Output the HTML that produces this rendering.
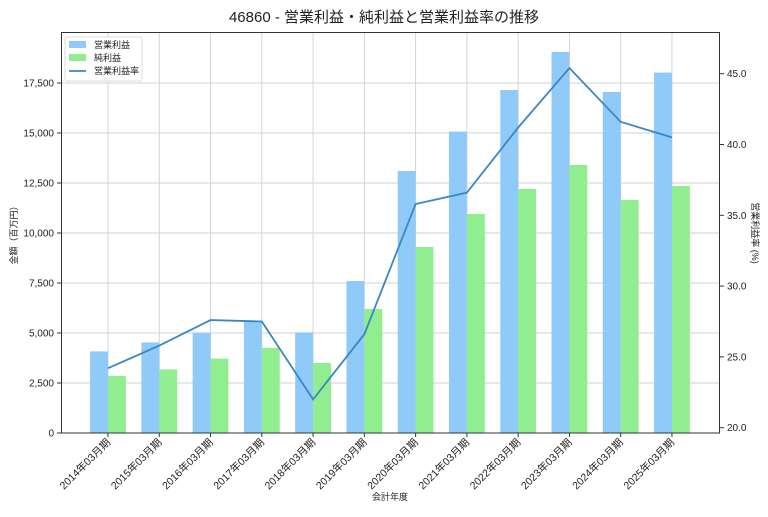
<!DOCTYPE html>
<html><head><meta charset="utf-8"><style>
body{margin:0;background:#fff;}
text{font-family:"Liberation Sans","Noto Sans CJK JP",sans-serif;fill:#222;}
</style></head><body>
<svg width="768" height="512" xmlns="http://www.w3.org/2000/svg">
<rect width="768" height="512" fill="#fff"/>
<text x="384" y="22" font-size="15" text-anchor="middle">46860 - 営業利益・純利益と営業利益率の推移</text>
<g id="grid" stroke="#d0d0d0" stroke-width="0.9"></g>
<g id="bars"></g>
<polyline id="line" fill="none" stroke="#3a87c4" stroke-width="1.8"/>
<rect x="61.5" y="32.5" width="658" height="400.5" fill="none" stroke="#333" stroke-width="1"/>
<g id="ticks" font-size="10"></g>
<text transform="translate(17,233) rotate(-90)" font-size="9" text-anchor="middle">金額（百万円）</text>
<text transform="translate(752,233) rotate(90)" font-size="9" text-anchor="middle">営業利益率 (%)</text>
<text x="390" y="500" font-size="9" text-anchor="middle">会計年度</text>
<g>
<rect x="65" y="37" width="77" height="44" fill="#fff" stroke="#ddd" rx="2"/>
<rect x="69" y="41" width="17" height="7" fill="#90caf9"/>
<text x="94" y="48" font-size="9">営業利益</text>
<rect x="69" y="54" width="17" height="7" fill="#90ee90"/>
<text x="94" y="61" font-size="9">純利益</text>
<line x1="69" y1="71" x2="86" y2="71" stroke="#3a87c4" stroke-width="1.8"/>
<text x="94" y="74" font-size="9">営業利益率</text>
</g>
</svg>
<script>
const ns="http://www.w3.org/2000/svg";
function el(p,t,a,txt){const e=document.createElementNS(ns,t);for(const k in a)e.setAttribute(k,a[k]);if(txt)e.textContent=txt;document.getElementById(p).appendChild(e);return e;}
const op=[4080,4530,5020,5600,5030,7600,13100,15070,17150,19050,17050,18020];
const net=[2850,3180,3720,4250,3500,6200,9300,10950,12200,13400,11650,12350];
const rate=[24.2,25.8,27.6,27.5,22.0,26.6,35.8,36.6,41.2,45.4,41.6,40.5];
const cx=i=>108+i*51.27, yl=v=>433-v*0.02, yr=v=>427.7-(v-20)*14.16, w=17.9;
for(let v=2500;v<=17500;v+=2500)el("grid","line",{x1:61,x2:720,y1:yl(v),y2:yl(v)});
for(let i=0;i<12;i++)el("grid","line",{x1:cx(i),x2:cx(i),y1:33,y2:433});
let pts=[];
for(let i=0;i<12;i++){
el("bars","rect",{x:cx(i)-w,y:yl(op[i]),width:w,height:op[i]*0.02,fill:"#90caf9"});
el("bars","rect",{x:cx(i),y:yl(net[i]),width:w,height:net[i]*0.02,fill:"#90ee90"});
pts.push(cx(i)+","+yr(rate[i]));
const y=(2014+i)+"年03月期";
el("ticks","line",{x1:cx(i),x2:cx(i),y1:433,y2:437,stroke:"#333"});
el("ticks","text",{transform:`translate(${cx(i)+3},${443}) rotate(-45)`,"text-anchor":"end","font-size":"10.5"},y);
}
document.getElementById("line").setAttribute("points",pts.join(" "));
for(let v=0;v<=17500;v+=2500){el("ticks","line",{x1:57,x2:61,y1:yl(v),y2:yl(v),stroke:"#333"});
el("ticks","text",{x:54,y:yl(v)+3.5,"text-anchor":"end"},v.toLocaleString("en-US"));}
for(let v=20;v<=45;v+=5){el("ticks","line",{x1:720,x2:724,y1:yr(v),y2:yr(v),stroke:"#333"});
el("ticks","text",{x:727,y:yr(v)+3.5},v.toFixed(1));}
</script>
</body></html>
